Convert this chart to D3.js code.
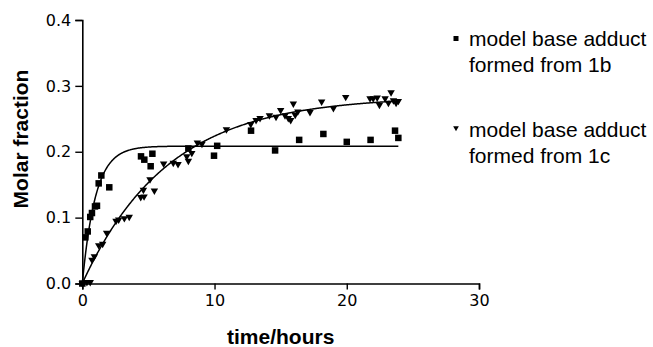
<!DOCTYPE html>
<html>
<head>
<meta charset="utf-8">
<script src="https://cdn.jsdelivr.net/npm/d3@7"></script>
<style>
  html, body { margin: 0; padding: 0; background: #fff; }
  svg { display: block; }
</style>
</head>
<body>
<svg id="chart" width="653" height="347"></svg>
<script>
// ---- data ----
const series1bTime = [0, 0.23, 0.41, 0.6, 0.73, 0.96, 1.11, 1.24, 1.44, 2.04, 4.44, 4.69, 5.17, 5.3, 8.02, 9.96, 10.2, 12.76, 14.58, 16.4, 18.23, 20.0, 21.8, 23.65, 23.9];
const series1bValue = [0, 0.070, 0.079, 0.101, 0.107, 0.117, 0.118, 0.152, 0.164, 0.146, 0.193, 0.188, 0.178, 0.197, 0.205, 0.194, 0.209, 0.232, 0.202, 0.218, 0.227, 0.215, 0.218, 0.232, 0.221];

const series1cTime = [0, 0.35, 0.6, 0.73, 0.91, 1.24, 1.54, 1.84, 2.55, 2.75, 3.18, 3.55, 4.42, 4.67, 4.62, 5.12, 5.45, 6.15, 6.88, 7.24, 7.9, 8.02, 8.28, 8.7, 9.05, 10.9, 12.74, 13.14, 13.44, 14.15, 14.65, 15.0, 15.33, 15.58, 15.76, 15.96, 16.1, 16.3, 17.22, 18.1, 18.99, 19.92, 21.76, 22.0, 22.3, 22.47, 22.9, 23.15, 23.35, 23.53, 23.73, 23.9];
const series1cValue = [0, 0.002, 0.002, 0.036, 0.041, 0.058, 0.060, 0.077, 0.095, 0.097, 0.099, 0.101, 0.131, 0.132, 0.142, 0.158, 0.141, 0.182, 0.183, 0.181, 0.193, 0.186, 0.198, 0.214, 0.212, 0.234, 0.242, 0.248, 0.251, 0.255, 0.253, 0.263, 0.255, 0.251, 0.248, 0.273, 0.256, 0.261, 0.260, 0.276, 0.266, 0.283, 0.281, 0.281, 0.282, 0.271, 0.281, 0.274, 0.290, 0.278, 0.274, 0.277];

// one-phase association fit parameters (plateau, rate constant) and fit range
const fit1b = { plateau: 0.2085, k: 1.0 };
const fit1c = { plateau: 0.284, k: 0.155 };
const fitRange = [0, 23.9];

const xTicks = [0, 10, 20, 30];
const yTicks = [0, 0.1, 0.2, 0.3, 0.4];
const legendLabels = [["model base adduct", "formed from 1b"], ["model base adduct", "formed from 1c"]];
const xTitle = "time/hours";
const yTitle = "Molar fraction";

// ---- drawing ----
const svg = d3.select("#chart");
const x = d3.scaleLinear().domain([0, 30]).range([82.3, 479]);
const y = d3.scaleLinear().domain([0, 0.4]).range([283.5, 20]);

const tickFont = "'DejaVu Sans', Verdana, sans-serif";
const labelFont = "'Liberation Sans', Arial, sans-serif";

// axes
const xAxis = svg.append("g").attr("transform", `translate(0,${y(0)})`)
  .call(d3.axisBottom(x).tickValues(xTicks).tickFormat(d3.format("d")).tickSizeOuter(0).tickSize(6).tickPadding(5));
const yAxis = svg.append("g").attr("transform", `translate(${x(0)},0)`)
  .call(d3.axisLeft(y).tickValues(yTicks).tickFormat(d3.format(".1f")).tickSizeOuter(0).tickSize(7).tickPadding(4));
[xAxis, yAxis].forEach(g => {
  g.select(".domain").attr("stroke", "#000").attr("stroke-width", 1.6);
  g.selectAll(".tick line").attr("stroke", "#000").attr("stroke-width", 1.4);
  g.selectAll(".tick text").attr("fill", "#000").style("font-family", tickFont).style("font-size", "16px");
});

// axis titles
svg.append("text").attr("x", (x(0) + x(30)) / 2).attr("y", 344)
  .attr("text-anchor", "middle").style("font-family", labelFont).style("font-weight", "bold").style("font-size", "21px")
  .text(xTitle);
svg.append("text").attr("transform", `translate(28,${139}) rotate(-90)`)
  .attr("text-anchor", "middle").style("font-family", labelFont).style("font-weight", "bold").style("font-size", "21px")
  .text(yTitle);

// fit curves
const tSamples = d3.range(fitRange[0], fitRange[1] + 1e-9, 0.05);
const line = d3.line().x(d => x(d[0])).y(d => y(d[1]));
[fit1b, fit1c].forEach(f => {
  svg.append("path")
    .datum(tSamples.map(t => [t, f.plateau * (1 - Math.exp(-f.k * t))]))
    .attr("d", line).attr("fill", "none").attr("stroke", "#000").attr("stroke-width", 1.5);
});

// markers
const sq = 6.5;
svg.append("g").selectAll("rect").data(series1bTime.map((t, i) => [t, series1bValue[i]])).join("rect")
  .attr("x", d => x(d[0]) - sq / 2).attr("y", d => y(d[1]) - sq / 2)
  .attr("width", sq).attr("height", sq).attr("fill", "#000");

const tri = d3.symbol().type(d3.symbolTriangle).size(24);
svg.append("g").selectAll("path").data(series1cTime.map((t, i) => [t, series1cValue[i]])).join("path")
  .attr("d", tri).attr("transform", d => `translate(${x(d[0])},${y(d[1])}) rotate(180)`).attr("fill", "#000");

// legend
const leg = svg.append("g");
leg.append("rect").attr("x", 453.5).attr("y", 36).attr("width", 5).attr("height", 5).attr("fill", "#000");
leg.append("path").attr("d", d3.symbol().type(d3.symbolTriangle).size(14))
  .attr("transform", "translate(456,128) rotate(180)").attr("fill", "#000");
const legY = [46, 137];
legendLabels.forEach((lines, i) => {
  lines.forEach((s, j) => {
    leg.append("text").attr("x", 469).attr("y", legY[i] + j * 25.5)
      .style("font-family", labelFont).style("font-size", "21px").attr("fill", "#000").text(s);
  });
});
</script>
</body>
</html>
